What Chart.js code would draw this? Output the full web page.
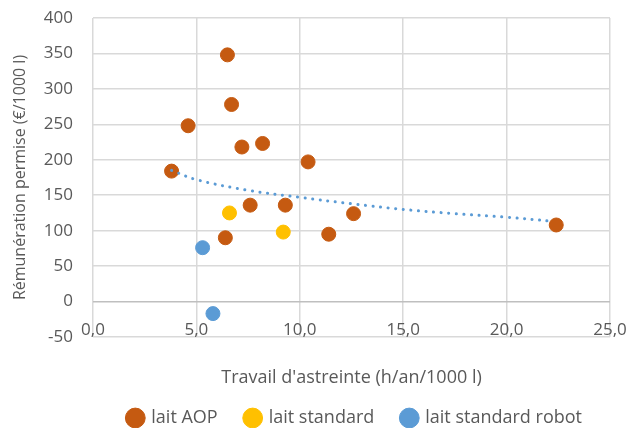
<!DOCTYPE html>
<html>
<head>
<meta charset="utf-8">
<script src="https://cdn.jsdelivr.net/npm/chart.js@4"></script>
<style>
    html, body { margin: 0; padding: 0; background: #fff; }
    #wrap { width: 635px; height: 428px; }
</style>
</head>
<body>
<div id="wrap"><canvas id="chart"></canvas></div>
<script>
// Data
const aopX = [3.8, 4.6, 6.5, 6.7, 7.2, 8.2, 10.4, 7.6, 9.3, 6.4, 11.4, 12.6, 22.4];
const aopY = [184, 248, 348, 278, 218, 223, 197, 136, 136, 90, 95, 124, 108];
const stdX = [6.6, 9.2];
const stdY = [125, 98];
const robotX = [5.3, 5.8];
const robotY = [76, -17];
// dotted trend line, read along its path
const trendX = [3.8, 5, 7.5, 10, 12.5, 15, 17.5, 20, 22.3];
const trendY = [185, 172, 157, 147, 138, 130, 124, 119, 113];
const xTicks = [0, 5, 10, 15, 20, 25];
const yTicks = [-50, 0, 50, 100, 150, 200, 250, 300, 350, 400];

const pts = (xs, ys) => xs.map((x, i) => ({ x: x, y: ys[i] }));
const FONT = 'Open Sans';
const TXT = '#595959';

const ctx = document.getElementById('chart').getContext('2d');
new Chart(ctx, {
    type: 'scatter',
    data: {
        datasets: [
            {
                label: 'trend',
                data: pts(trendX, trendY),
                showLine: true,
                borderColor: '#5B9BD5',
                borderWidth: 3,
                borderDash: [0.1, 7.5],
                borderCapStyle: 'round',
                pointRadius: 0,
                tension: 0.4
            },
            {
                label: 'lait AOP',
                data: pts(aopX, aopY),
                backgroundColor: '#C55A11',
                borderColor: '#C55A11',
                pointRadius: 7,
                pointStyle: 'circle'
            },
            {
                label: 'lait standard',
                data: pts(stdX, stdY),
                backgroundColor: '#FFC000',
                borderColor: '#FFC000',
                pointRadius: 7,
                pointStyle: 'circle'
            },
            {
                label: 'lait standard robot',
                data: pts(robotX, robotY),
                backgroundColor: '#5B9BD5',
                borderColor: '#5B9BD5',
                pointRadius: 7,
                pointStyle: 'circle'
            }
        ]
    },
    options: {
        responsive: true,
        maintainAspectRatio: false,
        animation: false,
        layout: { padding: { top: 18, right: 25, left: 0, bottom: -9 } },
        plugins: {
            tooltip: { enabled: false },
            legend: {
                position: 'bottom',
                align: 'end',
                labels: {
                    filter: item => item.text !== 'trend',
                    usePointStyle: true,
                    pointStyle: 'circle',
                    boxWidth: 14,
                    boxHeight: 14,
                    padding: 28,
                    color: TXT,
                    font: { family: FONT, size: 18 }
                }
            }
        },
        scales: {
            x: {
                type: 'linear',
                min: 0,
                max: 25,
                afterBuildTicks: s => { s.ticks = xTicks.map(v => ({ value: v })); },
                afterFit: s => { s.height = 44; },
                grid: {
                    color: '#D9D9D9',
                    lineWidth: 1.5,
                    drawTicks: false
                },
                border: { display: false },
                ticks: {
                    mirror: true,
                    autoSkip: false,
                    padding: -3,
                    color: TXT,
                    font: { family: FONT, size: 17 },
                    maxRotation: 0,
                    callback: v => Number(v).toFixed(1).replace('.', ',')
                },
                title: {
                    display: true,
                    text: "Travail d'astreinte (h/an/1000 l)",
                    color: TXT,
                    font: { family: FONT, size: 18 },
                    padding: { top: 0, bottom: -8 }
                }
            },
            y: {
                type: 'linear',
                min: -50,
                max: 400,
                afterBuildTicks: s => { s.ticks = yTicks.map(v => ({ value: v })); },
                afterFit: s => {
                    s.width = 93;
                    s.paddingTop = 10;
                    s.paddingBottom = 10;
                },
                grid: {
                    color: c => c.tick && c.tick.value === 0 ? '#BFBFBF' : '#D9D9D9',
                    lineWidth: 1.5,
                    drawTicks: false
                },
                border: { display: false },
                ticks: {
                    padding: 20,
                    color: TXT,
                    font: { family: FONT, size: 17 }
                },
                title: {
                    display: true,
                    text: 'Rémunération permise (€/1000 l)',
                    color: TXT,
                    font: { family: FONT, size: 16 },
                    padding: { top: 11, bottom: 0 }
                }
            }
        }
    }
});
</script>
</body>
</html>
